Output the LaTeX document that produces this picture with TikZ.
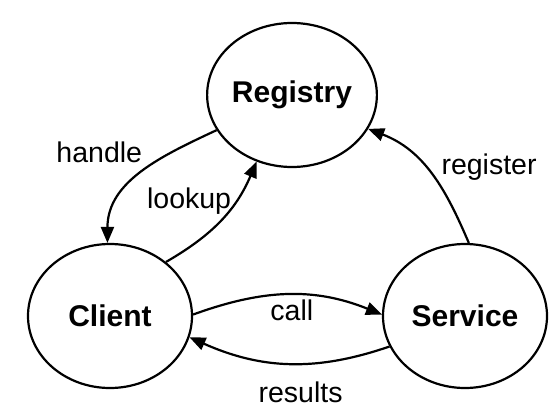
\documentclass[tikz,border=0pt]{standalone}
\usepackage{fontspec}
\setmainfont{Liberation Sans}
\usetikzlibrary{arrows.meta,shapes.geometric,positioning}

\begin{document}
\begin{tikzpicture}[x=1pt, y=1pt, >={Triangle[length=16pt,width=13pt]}, line width=2.2pt,
    actor/.style={draw, ellipse, minimum width=164pt, minimum height=144pt, inner sep=0pt,
      font=\fontsize{30}{34}\selectfont\bfseries},
    lbl/.style={font=\fontsize{28.5}{32}\selectfont}]

    \useasboundingbox (0,0) rectangle (553,413);

    \node[actor] (reg) at (292,318) {Registry};
    \node[actor] (cli) at (110,97) {Client};
    \node[actor] (srv) at (465,97) {Service};

    \draw[->] (reg.205) to[out=205, in=90] node[lbl, pos=0.3, above left, xshift=-22pt, yshift=-13pt] {handle} (cli.92);
    \draw[->] (cli.44) to[out=30, in=247] node[lbl, pos=0.62, left, xshift=5pt, yshift=7pt] {lookup} (reg.242);
    \draw[->] (srv.87) to[out=113, in=339] node[lbl, pos=0.45, right, xshift=2pt, yshift=12pt] {register} (reg.-24);
    \draw[->] (cli.1) to[out=20, in=158] node[lbl, midway, below, xshift=4pt, yshift=-1pt] {call} (srv.179);
    \draw[->] (srv.202) to[out=199, in=336] node[lbl, midway, below=4pt, xshift=12pt, yshift=-10pt] {results} (cli.-15);

\end{tikzpicture}
\end{document}
